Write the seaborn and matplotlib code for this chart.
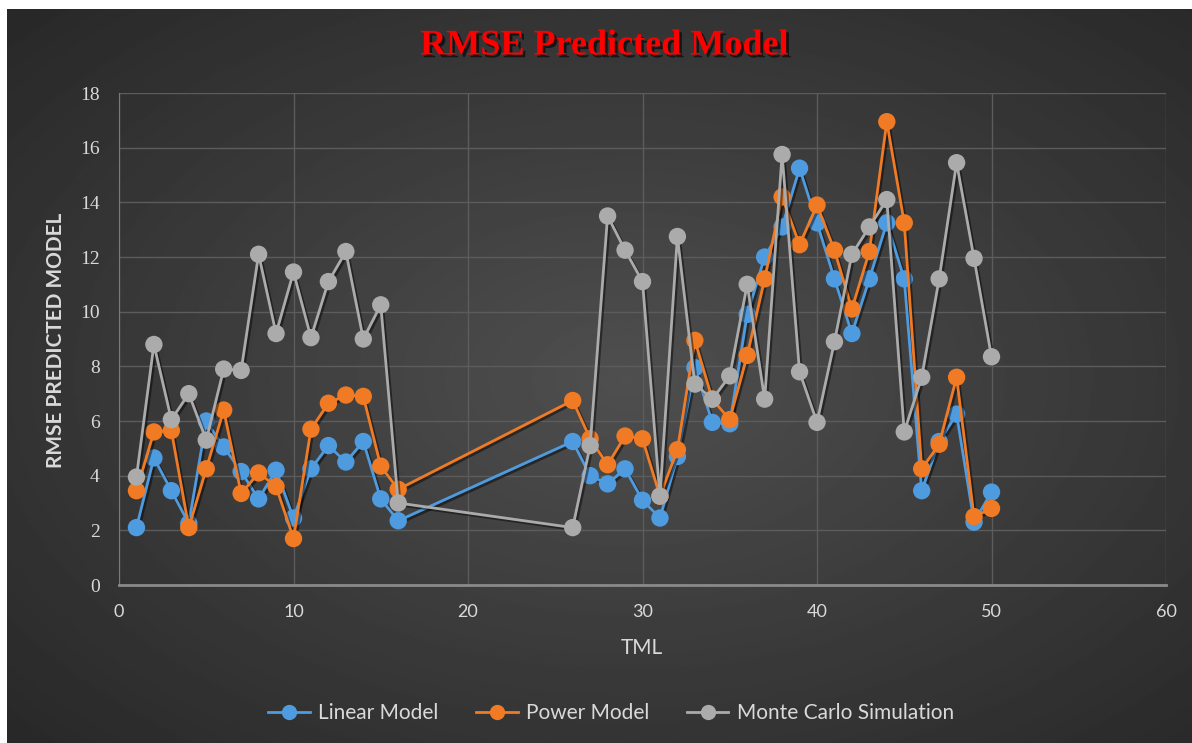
import numpy as np
import pandas as pd
import seaborn as sns
import matplotlib.pyplot as plt
from matplotlib import font_manager
from matplotlib import patheffects as pe
from matplotlib.lines import Line2D

# values
tml = [1, 2, 3, 4, 5, 6, 7, 8, 9, 10, 11, 12, 13, 14, 15, 16,
       26, 27, 28, 29, 30, 31, 32, 33, 34, 35, 36, 37, 38, 39, 40,
       41, 42, 43, 44, 45, 46, 47, 48, 49, 50]
linear_model = [2.1, 4.65, 3.45, 2.25, 6.0, 5.05, 4.15, 3.15, 4.2, 2.45, 4.25, 5.1, 4.5, 5.25, 3.15, 2.35,
                5.25, 4.0, 3.7, 4.25, 3.1, 2.45, 4.7, 7.95, 5.95, 5.9, 9.9, 12.0, 13.1, 15.25, 13.25,
                11.2, 9.2, 11.2, 13.25, 11.2, 3.45, 5.25, 6.25, 2.3, 3.4]
power_model = [3.45, 5.6, 5.65, 2.1, 4.25, 6.4, 3.35, 4.1, 3.6, 1.7, 5.7, 6.65, 6.95, 6.9, 4.35, 3.5,
               6.75, 5.35, 4.4, 5.45, 5.35, 3.25, 4.95, 8.95, 6.8, 6.05, 8.4, 11.2, 14.2, 12.45, 13.9,
               12.25, 10.1, 12.2, 16.95, 13.25, 4.25, 5.15, 7.6, 2.5, 2.8]
monte_carlo = [3.95, 8.8, 6.05, 7.0, 5.3, 7.9, 7.85, 12.1, 9.2, 11.45, 9.05, 11.1, 12.2, 9.0, 10.25, 3.0,
               2.1, 5.1, 13.5, 12.25, 11.1, 3.25, 12.75, 7.35, 6.8, 7.65, 11.0, 6.8, 15.75, 7.8, 5.95,
               8.9, 12.1, 13.1, 14.1, 5.6, 7.6, 11.2, 15.45, 11.95, 8.35]

series_names = ['Linear Model', 'Power Model', 'Monte Carlo Simulation']
series_colors = ['#4f9be0', '#f07b24', '#ababab']
x_ticks = [0, 10, 20, 30, 40, 50, 60]
y_ticks = [0, 2, 4, 6, 8, 10, 12, 14, 16, 18]


def pick_font(candidates):
    installed = {f.name for f in font_manager.fontManager.ttflist}
    for name in candidates:
        if name in installed:
            return name
    return 'DejaVu Sans'


sans = pick_font(['Liberation Sans Narrow', 'Lato', 'Liberation Sans'])
serif = pick_font(['Liberation Serif', 'DejaVu Serif'])
text_color = '#d9d9d9'

df = pd.DataFrame({
    'TML': tml * 3,
    'RMSE': linear_model + power_model + monte_carlo,
    'Series': [series_names[0]] * len(tml) + [series_names[1]] * len(tml) + [series_names[2]] * len(tml),
})

W, H = 1192, 743
fig = plt.figure(figsize=(W / 100, H / 100), dpi=100, facecolor='white')

# dark radial background panel (white strip only on the top and left edges)
bg = fig.add_axes([7 / W, -0.01, 1.0, 1.01 - 9 / H], zorder=-10)
yy, xx = np.mgrid[0:1:400j, 0:1:640j]
r = np.sqrt(((xx - 0.52) / 0.75) ** 2 + ((yy - 0.5) / 0.75) ** 2)
shade = np.clip(0.31 - 0.16 * r, 0.15, 0.31)
bg.imshow(shade, cmap='gray', vmin=0, vmax=1, aspect='auto', extent=[0, 1, 0, 1])
bg.set_xlim(0, 1)
bg.set_ylim(0, 1)
bg.axis('off')

ax = fig.add_axes([119 / W, 1 - 585 / H, (1166 - 119) / W, (585 - 93) / H])
ax.set_facecolor('none')

sns.lineplot(data=df, x='TML', y='RMSE', hue='Series', hue_order=series_names,
             palette=series_colors, marker='o', markersize=12.5, markeredgewidth=0,
             linewidth=2, sort=False, legend=False, ax=ax,
             path_effects=[pe.SimpleLineShadow(offset=(1.5, -1.5), alpha=0.45), pe.Normal()])

ax.set_xlim(0, 60)
ax.set_ylim(0, 18)
ax.set_xticks(x_ticks)
ax.set_yticks(y_ticks)
ax.grid(True, color='#5c5c5c', linewidth=1)
ax.set_axisbelow(True)
for side in ['top', 'right']:
    ax.spines[side].set_visible(False)
ax.spines['left'].set_color('#7a7a7a')
ax.spines['bottom'].set_color('#8a8a8a')
ax.spines['bottom'].set_linewidth(2)
ax.set_xlabel('')
ax.set_ylabel('')
ax.tick_params(axis='both', length=0, colors=text_color)
ax.tick_params(axis='y', pad=14, labelsize=14)
ax.tick_params(axis='x', pad=14, labelsize=13)
for lbl in ax.get_yticklabels():
    lbl.set_fontfamily(serif)
for lbl in ax.get_xticklabels():
    lbl.set_fontfamily(sans)

fig.text(0.507, 1 - 46 / H, 'RMSE Predicted Model', color='red', fontsize=26,
         fontweight='bold', family=serif, ha='center', va='center',
         path_effects=[pe.SimplePatchShadow(offset=(2, -2), shadow_rgbFace='black', alpha=0.6), pe.Normal()])
fig.text(56 / W, 1 - 340 / H, 'RMSE PREDICTED MODEL', rotation=90, color=text_color,
         fontsize=15, fontweight='bold', family=sans, ha='center', va='center')
fig.text(642 / W, 1 - 648 / H, 'TML', color=text_color, fontsize=15,
         family=sans, ha='center', va='center')

handles = [Line2D([0], [0], color=c, lw=2, marker='o', markersize=11, markeredgewidth=0)
           for c in series_colors]
fig.legend(handles, series_names, loc='center', bbox_to_anchor=(611 / W, 1 - 713 / H),
           ncol=3, frameon=False, prop={'family': sans, 'size': 15}, labelcolor=text_color,
           handlelength=2.0, handletextpad=0.4, columnspacing=1.8)

fig.savefig('out.png', dpi=100, facecolor='white')
